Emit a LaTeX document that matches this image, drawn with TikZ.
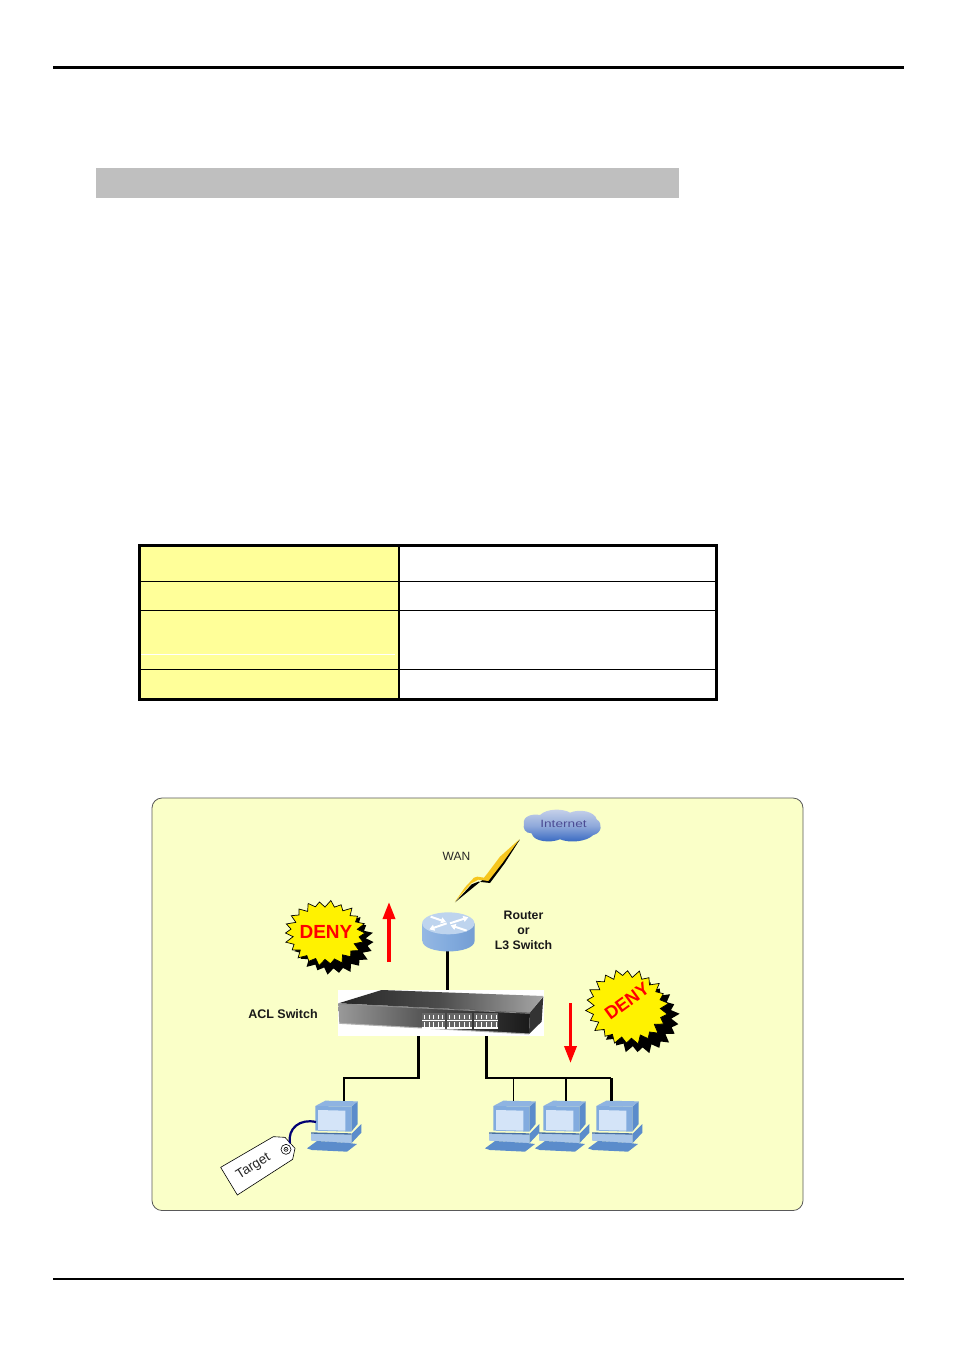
\documentclass[tikz,border=0pt]{standalone}
\usepackage{fontspec}
\setmainfont{Liberation Sans}
\usetikzlibrary{arrows.meta}
\definecolor{panel}{HTML}{FAFFC8}
\definecolor{tabley}{HTML}{FFFF99}
\definecolor{pcdark}{HTML}{5B8CCB}
\definecolor{pcmid}{HTML}{82ABDE}
\definecolor{pclight}{HTML}{A9C6E8}
\definecolor{pcscreen}{HTML}{D4E4F8}
\definecolor{cloudtop}{HTML}{C9D3EA}
\definecolor{cloudmid}{HTML}{8FA9DA}
\definecolor{cloudlow}{HTML}{2F62C0}
\definecolor{bolt}{HTML}{F6C61E}
\tikzset{
  wire/.style={line width=#1,black},
  lbl/.style={inner sep=0pt,align=center},
  redarrow/.style={draw=red,line width=3.4pt,-{Triangle[length=17pt,width=12pt]}},
  tline/.style={line width=.9pt,black},
  touter/.style={line width=3pt,black},
  denytext/.style={text=red,font=\fontsize{19}{19}\selectfont\bfseries,inner sep=0pt},
}
% computer: drawn in zoomed-up units
\newcommand{\pcat}[3]{%
\begin{scope}[shift={(#1,#2)},x=.3333pt,y=-.3333pt]
  \fill[pcdark] (178,140)--(197,124)--(197,192)--(178,215)--cycle;
  \fill[pcmid!70!pclight] (70,138)--(100,122)--(197,124)--(178,140)--cycle;
  \fill[pcmid] (70,138)--(178,140)--(178,215)--(70,212)--cycle;
  \fill[pcscreen] (78,150)--(160,152)--(160,212)--(78,210)--cycle;
  \fill[pcdark] (178,222)--(208,192)--(208,218)--(178,250)--cycle;
  \fill[pclight] (57,220)--(178,222)--(178,250)--(57,242)--cycle;
  \fill[pcdark!80!black] (57,217)--(178,220)--(178,224)--(57,221)--cycle;
  \fill[pcdark] (45,265)--(75,243)--(170,249)--(195,252)--(165,275)--(60,270)--cycle;
  \coordinate (#3) at (130,122);
\end{scope}}
% starburst
\newcommand{\burst}[6]{% x y rx ry rot style
\begin{scope}[shift={(#1,#2)},rotate=#5]
  \path[#6] (0:#3 and #4)
   \foreach \i [evaluate=\i as \rr using {1-0.17*mod(\i,2)+0.03*sin(\i*97)}] in {1,...,43} {
     -- ({\i*360/44}:{#3*\rr} and {#4*\rr})
   } -- cycle;
\end{scope}}
\begin{document}
\begin{tikzpicture}[x=1pt,y=-1pt]
\useasboundingbox (0,0) rectangle (954,1350);
\fill[white] (0,0) rectangle (954,1350);
% page rules and heading bar
\draw[line width=3pt] (53,67.5) -- (904,67.5);
\draw[line width=2pt] (53,1278.5) -- (904,1278.5);
\fill[black!25] (96,168) rectangle (679,198);
% table
\fill[tabley] (139,545) rectangle (399,700);
\draw[white,line width=.5pt] (141,654.5) -- (395,654.5);
\draw[tline] (139,581) -- (716,581) (139,610) -- (716,610) (139,669) -- (716,669);
\draw[line width=2pt,black] (399,545) -- (399,700);
\draw[touter] (139.5,545.5) rectangle (716.5,699.5);
% panel
\draw[draw=black!65,fill=panel,line width=.8pt,rounded corners=10pt] (152,798) rectangle (803,1210.5);

% named anchors for the connectors
\coordinate (swTop) at (447.5,990);
\coordinate (swL) at (418.5,1036);
\coordinate (swR) at (486.5,1036);
\coordinate (busL) at (344,1078);
\coordinate (busR) at (611,1078);
\coordinate (busC) at (566,1078);
\coordinate (pcCtop) at (566,1101);

% switch
\fill[white] (338,990) rectangle (544,1036);
\begin{scope}[shift={(330,960)},x=.3333pt,y=-.3333pt]
  \shade[left color=black!85,right color=black!35,middle color=black!70] (25,130)--(155,90)--(640,108)--(600,158)--cycle;
  \shade[left color=black!40,right color=black!90,middle color=black!70] (25,130)--(600,158)--(597,222)--(28,190)--cycle;
  \fill[black!80] (600,158)--(640,110)--(635,185)--(597,222)--cycle;
  \draw[black!45,line width=.8pt] (25,132)--(600,160);
  \draw[black!30,line width=1pt] (28,190)--(597,222);
  \foreach \a/\b in {277/345,352/425,433/505}{
    \fill[black!60] (\a,158) rectangle (\b,205);
    \draw[white,line width=1.1pt] (\a,181)--(\b,181) (\a,204)--(\b,204);
    \foreach \t in {.1,.3,.5,.7,.9}{
      \draw[white,line width=.8pt] ({\a+\t*(\b-\a)},164)--({\a+\t*(\b-\a)},178)
                                  ({\a+\t*(\b-\a)},186)--({\a+\t*(\b-\a)},200);
    }
  }
\end{scope}

% computers
\pcat{292}{1060}{pcA}
\pcat{470}{1060}{pcB}
\pcat{520}{1060}{pcC}
\pcat{573}{1060}{pcD}

% connectors
\coordinate (routerBase) at (447.5,950);
\draw[wire=2.4pt] (routerBase) -- (swTop);
\draw[wire=2.6pt] (swL) |- (busL) -- (busL |- pcA);
\draw[wire=2.6pt] (swR) |- (busR);
\draw[wire=1pt] (pcB |- busR) -- (pcB);
\draw[wire=2pt] (busC) -- (pcCtop);
\draw[wire=3pt] (busR) -- (busR |- pcD);

% router, cloud, lightning (zoom-crop units)
\begin{scope}[shift={(400,800)},x=.3333pt,y=-.3333pt]
  % lightning
  \fill[black] (165,307)--(215,253)--(235,245)--(270,249)--(314,190)--(360,118)--(300,182)--(262,228)--cycle;
  \fill[bolt] (165,305)--(195,262)--(222,233)--(232,230)--(252,233)--(264,218)--(300,170)--(358,118)--(308,188)--(265,243)--(235,239)--(214,250)--cycle;
  % cloud
  \shade[top color=cloudtop,bottom color=cloudlow,middle color=cloudmid]
    (372,70) .. controls (368,50) and (395,40) .. (420,45)
    .. controls (440,25) and (490,25) .. (510,38)
    .. controls (540,25) and (585,35) .. (590,58)
    .. controls (610,70) and (605,100) .. (580,105)
    .. controls (560,125) and (510,130) .. (480,118)
    .. controls (450,130) and (400,125) .. (395,100)
    .. controls (375,100) and (368,85) .. (372,70) -- cycle;
  % router body
  \shade[left color=pcmid!85!white,right color=pcdark!85!white,middle color=pcmid]
    (67,370) -- (67,422) .. controls (67,465) and (224,465) .. (224,422) -- (224,370) -- cycle;
  \fill[pclight!75!white] (145,370) ellipse [x radius=78.5, y radius=33];
  \draw[white,line width=2pt,-{Triangle[length=5pt,width=6pt]}] (150,370) -- (205,352);
  \draw[white,line width=2pt,-{Triangle[length=5pt,width=6pt]}] (140,370) -- (88,388);
  \draw[white,line width=2pt,-{Triangle[length=5pt,width=6pt]}] (92,350) -- (138,366);
  \draw[white,line width=2pt,-{Triangle[length=5pt,width=6pt]}] (200,392) -- (152,376);
\end{scope}
\node[inner sep=0pt,text=black!60!blue!70!white,font=\fontsize{10.5}{10.5}\selectfont,xscale=1.3] (internet) at (563.5,824) {Internet};
\node[inner sep=0pt,font=\fontsize{12}{12}\selectfont,text=black!85] (wan) at (456.5,856) {WAN};
\node[lbl,font=\fontsize{12.3}{15}\selectfont\bfseries,text=black!90] (router) at (523.5,930) {Router\\or\\L3 Switch};
\node[lbl,font=\fontsize{12.5}{12.5}\selectfont\bfseries,text=black!90] (acl) at (283,1014) {ACL Switch};

% left deny
\burst{333.5}{942}{40}{32}{0}{fill=black}
\burst{325}{933}{40}{32}{0}{fill=yellow,draw=black,line width=.7pt}
\node[denytext] (denyA) at (326,932) {DENY};
% right deny
\burst{638}{1017}{41}{36}{-10}{fill=black}
\burst{627}{1007}{41}{37}{-10}{fill=yellow,draw=black,line width=.7pt}
\node[denytext,rotate=36,font=\fontsize{18}{18}\selectfont\bfseries] (denyB) at (627,1001) {DENY};

% red arrows
\coordinate (upS) at (389,962);
\coordinate (upE) at (389,902);
\coordinate (dnS) at (570.5,1003);
\coordinate (dnE) at (570.5,1063);
\draw[redarrow] (upS) -- (upE);
\draw[redarrow] (dnS) -- (dnE);

% tag
\begin{scope}[shift={(210,1080)},x=.3333pt,y=-.3333pt]
  \draw[draw=black,fill=white,line width=.6pt] (32,262)--(190,170)--(225,172)--(255,205)--(248,238)--(82,345)--cycle;
  \draw[black,line width=.6pt] (228,208) circle [radius=5pt];
  \draw[black,line width=.6pt] (228,208) circle [radius=2pt];
  \fill[black] (228,208) circle [radius=.7pt];
  \draw[blue!45!black,line width=2.2pt] (240,190) .. controls (232,145) and (270,115) .. (318,126);
\end{scope}
\node[inner sep=0pt,rotate=32,font=\fontsize{13.5}{13.5}\selectfont,text=black!85] (target) at (253.5,1166.5) {Target};
\end{tikzpicture}
\end{document}
